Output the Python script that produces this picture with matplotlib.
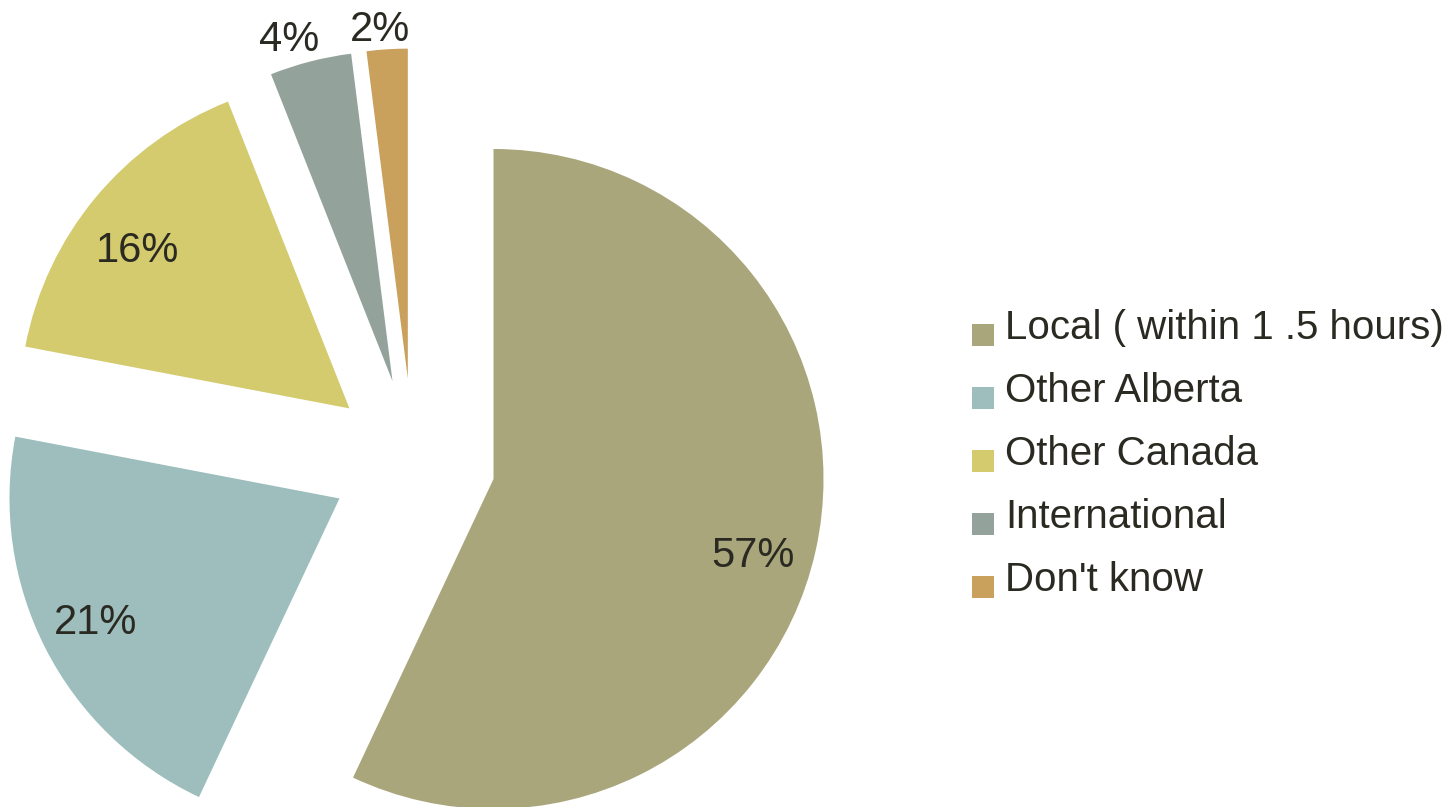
import matplotlib
matplotlib.use("Agg")
import matplotlib.pyplot as plt
from matplotlib.patches import Rectangle
import numpy as np

categories = ["Local ( within 1 .5 hours)", "Other Alberta", "Other Canada",
              "International", "Don't know"]
shares = [57, 21, 16, 4, 2]
colors = ["#a9a67c", "#9dbebd", "#d3cb6d", "#93a39b", "#c9a05c"]

TEXT = "#2b2a22"
FONT = "Liberation Sans"
W, H = 1448, 807

fig = plt.figure(figsize=(W / 100, H / 100), dpi=100)
ax = fig.add_axes([0, 0, 1, 1])

# Pie laid out in pixel units, every slice pulled out from the centre
R = 330
PULL = 82.5
wedges, _ = ax.pie(shares, colors=colors, startangle=90, counterclock=False,
                   explode=[PULL] * len(shares), radius=R, center=(413, 346),
                   wedgeprops=dict(linewidth=0))

# Percentage labels: inside the large slices, just outside the thin ones
label_dist = [0.82, 0.83, 0.80, 1.08, 1.06]
label_shift = [-4, 0, 3, 2.5, 1]
for w, v, d, s in zip(wedges, shares, label_dist, label_shift):
    th = np.deg2rad((w.theta1 + w.theta2) / 2 + s)
    cx, cy = w.center
    ax.text(cx + d * w.r * np.cos(th), cy + d * w.r * np.sin(th), f"{v}%",
            ha="center", va="center", fontsize=30, color=TEXT, family=FONT)

# Legend: colour squares with category names
for i, (name, col) in enumerate(zip(categories, colors)):
    yc = H - (335 + 63 * i)
    ax.add_patch(Rectangle((972, yc - 11), 22, 22, facecolor=col,
                           edgecolor="none"))
    ax.text(1005, yc - 4, name, ha="left", va="baseline", fontsize=29,
            color=TEXT, family=FONT)

ax.set_xlim(0, W)
ax.set_ylim(0, H)
ax.set_aspect("auto")
ax.axis("off")

fig.savefig("out.png", dpi=100)
